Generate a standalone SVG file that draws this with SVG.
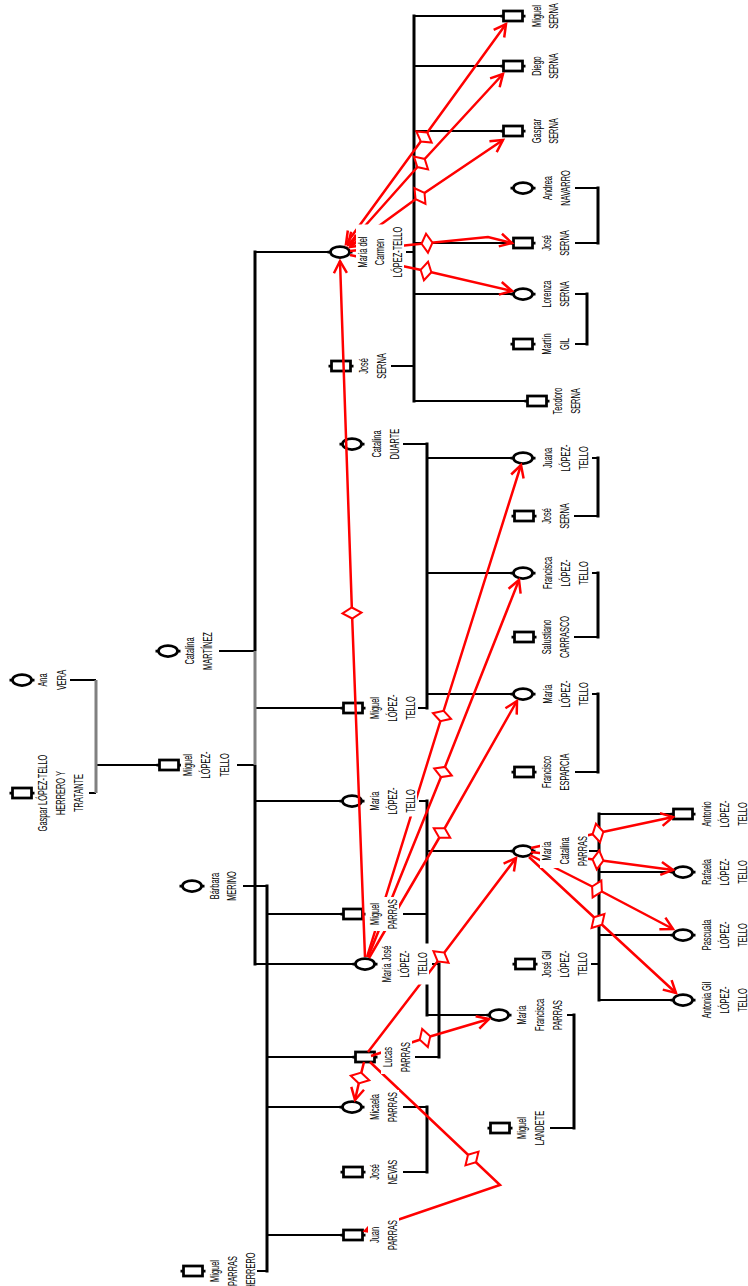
<svg xmlns="http://www.w3.org/2000/svg" xmlns:xlink="http://www.w3.org/1999/xlink" width="748" height="1286" viewBox="0 0 748 1286">
<style>
.ln{stroke:#000;stroke-width:2;fill:none}
.bar{stroke:#000;stroke-width:3;fill:none}
.grey{stroke:#808080;stroke-width:3;fill:none}
.red{stroke:#f00;stroke-width:2.5;fill:none}
.rm{marker-mid:url(#dia);marker-end:url(#arr)}
.rs{marker-start:url(#arrS)}
.sh{fill:none;stroke:#000;stroke-width:2.75}
.dia{fill:#fff;stroke:#f00;stroke-width:2}
.bg{fill:#fff}
text{font-family:"Liberation Sans",Arial,sans-serif;font-size:12px;fill:#000;text-anchor:middle}
</style>
<defs>
<g id="sq" class="sh"><rect x="-9.5" y="-5" width="19" height="10"/><path d="M-12.5,0H-9.5M9.5,0H12.5"/></g>
<g id="ci" class="sh"><ellipse rx="9.5" ry="5.5"/><path d="M-12.5,0H-9.5M9.5,0H12.5"/></g>
<marker id="dia" markerUnits="userSpaceOnUse" markerWidth="24" markerHeight="24" viewBox="-12 -12 24 24" refX="0" refY="0" orient="auto"><path class="dia" d="M-5.5,0L0,-9.5L5.5,0L0,9.5Z"/></marker>
<marker id="arr" markerUnits="userSpaceOnUse" markerWidth="30" markerHeight="30" viewBox="-15 -15 30 30" refX="0" refY="0" orient="auto"><path d="M-12,-6.5L0,0L-12,6.5" fill="none" stroke="#f00" stroke-width="2.5"/></marker>
<marker id="arrS" markerUnits="userSpaceOnUse" markerWidth="30" markerHeight="30" viewBox="-15 -15 30 30" refX="0" refY="0" orient="auto-start-reverse"><path d="M-12,-6.5L0,0L-12,6.5" fill="none" stroke="#f00" stroke-width="2.5"/></marker>
</defs>
<rect width="748" height="1286" fill="#fff"/>
<g id="connectors">
<path class="ln" d="M70,680H96M89,793H96M96,765H159.5M219,651H255M237,765H255M255,252H330.5M255,708H343.5M255,801H342.5M255,964H355.5M243,886H267M257,1271H267M267,914H343.5M267,1057H355.5M267,1107H342.5M267,1235H343.5M406,252H414M391,366H414M414,16H503.5M414,66H503.5M414,131H503.5M414,243H513.5M414,294H513.5M414,401H527.5M575,188H598M575,243H598M575,294H587M575,344H587M403,444H427M418,708H427M427,458H513.5M427,573H513.5M427,694H513.5M592,458H598M574,516H598M592,573H598M574,637H598M592,694H598M575,772H598M419,801H427M403,914H427M427,851H513.5M427,1015H489.5M432,964H439M415,1057H439M403,1107H427M403,1172H427M567,1015H574M550,1128H574M589,851H599M591,964H599M599,814H673.5M599,872H673.5M599,935H673.5M599,1000H673.5"/>
<path class="grey" d="M96,680V793M255,651V765"/>
<path class="bar" d="M255,250.5V651M255,765V965.5M267,884.5V1272.5M414,14.5V402.5M598,186.5V244.5M587,292.5V345.5M427,442.5V709.5M598,456.5V517.5M598,571.5V638.5M598,692.5V773.5M427,799.5V1016.5M439,962.5V1058.5M427,1105.5V1173.5M574,1013.5V1129.5M599,812.5V1001.5"/>
</g>
<g id="nodes-shapes">
<use href="#ci" x="22" y="680"/>
<use href="#sq" x="22" y="793"/>
<use href="#ci" x="168" y="651"/>
<use href="#sq" x="169" y="765"/>
<use href="#ci" x="192" y="886"/>
<use href="#sq" x="193" y="1271"/>
<use href="#ci" x="340" y="252"/>
<use href="#sq" x="341" y="366"/>
<use href="#ci" x="352" y="444"/>
<use href="#sq" x="353" y="708"/>
<use href="#ci" x="352" y="801"/>
<use href="#sq" x="353" y="914"/>
<use href="#ci" x="365" y="964"/>
<use href="#sq" x="365" y="1057"/>
<use href="#ci" x="352" y="1107"/>
<use href="#sq" x="353" y="1172"/>
<use href="#sq" x="353" y="1235"/>
<use href="#sq" x="513" y="16"/>
<use href="#sq" x="513" y="66"/>
<use href="#sq" x="513" y="131"/>
<use href="#ci" x="523" y="188"/>
<use href="#sq" x="523" y="243"/>
<use href="#ci" x="523" y="294"/>
<use href="#sq" x="523" y="344"/>
<use href="#sq" x="537" y="401"/>
<use href="#ci" x="523" y="458"/>
<use href="#sq" x="524" y="516"/>
<use href="#ci" x="523" y="573"/>
<use href="#sq" x="524" y="637"/>
<use href="#ci" x="523" y="694"/>
<use href="#sq" x="524" y="772"/>
<use href="#ci" x="523" y="851"/>
<use href="#sq" x="525" y="964"/>
<use href="#ci" x="499" y="1015"/>
<use href="#sq" x="500" y="1128"/>
<use href="#sq" x="683" y="814"/>
<use href="#ci" x="683" y="872"/>
<use href="#ci" x="683" y="935"/>
<use href="#ci" x="683" y="1000"/>
</g>
<g id="relations">
<path class="red rm" d="M365,957L352,613L340,261"/>
<path class="red rm" d="M367,957L442,716L521,465"/>
<path class="red rm" d="M368,957L443,772L519,580"/>
<path class="red rm" d="M369,958L442,833L517,701"/>
<path class="red rm" d="M368,1052L441,957L516,858"/>
<path class="red rm" d="M371,1056L425,1038L489,1019"/>
<path class="red rm" d="M364,1062L360,1078L355,1100"/>
<path class="red" d="M370,1062L500,1185L365,1231" marker-end="url(#arr)"/>
<path class="dia" d="M-5.5,0L0,-9.5L5.5,0L0,9.5Z" transform="translate(472,1158.5) rotate(43.4)"/>
<path class="red rm" d="M531,848L598,833L673,817"/>
<path class="red rm" d="M531,852L598,860L673,870"/>
<path class="red rm" d="M530,855L597,889L673,929"/>
<path class="red rm" d="M529,857L598,921L676,993"/>
<path class="red rm rs" d="M346,244L424,137L506,24"/>
<path class="red rm rs" d="M348,245L421,163L503,74"/>
<path class="red rm rs" d="M350,247L420,196L503,140"/>
<path class="red" d="M350,251L488,237L512,243" marker-end="url(#arr)"/>
<path class="dia" d="M-5.5,0L0,-9.5L5.5,0L0,9.5Z" transform="translate(427,243.2) rotate(-5.8)"/>
<path class="red rm" d="M350,255L426,271L512,291"/>
</g>
<g id="labels">
<g id="n-ana-vera"><rect class="bg" x="36" y="668" width="32" height="24"/><text transform="translate(47,680) rotate(-90) scale(0.62,1)"><tspan x="0" y="0">Ana</tspan><tspan x="0" y="19">VERA</tspan></text></g>
<g id="n-gaspar-lopez-tello"><rect class="bg" x="36" y="752" width="49" height="82"/><text transform="translate(47,793) rotate(-90) scale(0.62,1)"><tspan x="0" y="0">Gaspar LÓPEZ-TELLO</tspan><tspan x="0" y="18">HERRERO Y</tspan><tspan x="0" y="36">TRATANTE</tspan></text></g>
<g id="n-catalina-martinez"><rect class="bg" x="183" y="630" width="31" height="42"/><text transform="translate(194,651) rotate(-90) scale(0.62,1)"><tspan x="0" y="0">Catalina</tspan><tspan x="0" y="18">MARTÍNEZ</tspan></text></g>
<g id="n-miguel-lopez-tello-1"><rect class="bg" x="181" y="749.5" width="50" height="31"/><text transform="translate(192,765) rotate(-90) scale(0.62,1)"><tspan x="0" y="0">Miguel</tspan><tspan x="0" y="18.5">LÓPEZ-</tspan><tspan x="0" y="37">TELLO</tspan></text></g>
<g id="n-barbara-merino"><rect class="bg" x="208" y="869" width="30" height="34"/><text transform="translate(219,886) rotate(-90) scale(0.62,1)"><tspan x="0" y="0">Bárbara</tspan><tspan x="0" y="17">MERINO</tspan></text></g>
<g id="n-miguel-parras-herrero"><rect class="bg" x="208" y="1250" width="49" height="41"/><text transform="translate(219,1271) rotate(-90) scale(0.62,1)"><tspan x="0" y="0">Miguel</tspan><tspan x="0" y="18">PARRAS</tspan><tspan x="0" y="36">HERRERO</tspan></text></g>
<g id="n-maria-del-carmen"><rect class="bg" x="356" y="224.5" width="48" height="55"/><text transform="translate(367,252) rotate(-90) scale(0.62,1)"><tspan x="0" y="0">María del</tspan><tspan x="0" y="17.5">Carmen</tspan><tspan x="0" y="35">LÓPEZ-TELLO</tspan></text></g>
<g id="n-jose-serna-2"><rect class="bg" x="357" y="351" width="31" height="30"/><text transform="translate(368,366) rotate(-90) scale(0.62,1)"><tspan x="0" y="0">José</tspan><tspan x="0" y="18">SERNA</tspan></text></g>
<g id="n-catalina-duarte"><rect class="bg" x="370" y="427" width="31" height="34"/><text transform="translate(381,444) rotate(-90) scale(0.62,1)"><tspan x="0" y="0">Catalina</tspan><tspan x="0" y="18">DUARTE</tspan></text></g>
<g id="n-miguel-lopez-tello-2"><rect class="bg" x="368" y="692.5" width="49" height="31"/><text transform="translate(379,708) rotate(-90) scale(0.62,1)"><tspan x="0" y="0">Miguel</tspan><tspan x="0" y="18">LÓPEZ-</tspan><tspan x="0" y="36">TELLO</tspan></text></g>
<g id="n-maria-lopez-tello-2"><rect class="bg" x="368" y="785.5" width="49" height="31"/><text transform="translate(379,801) rotate(-90) scale(0.62,1)"><tspan x="0" y="0">María</tspan><tspan x="0" y="18">LÓPEZ-</tspan><tspan x="0" y="36">TELLO</tspan></text></g>
<g id="n-miguel-parras"><rect class="bg" x="368" y="897" width="31" height="34"/><text transform="translate(379,914) rotate(-90) scale(0.62,1)"><tspan x="0" y="0">Miguel</tspan><tspan x="0" y="18">PARRAS</tspan></text></g>
<g id="n-maria-jose"><rect class="bg" x="380" y="943.5" width="49" height="41"/><text transform="translate(391,964) rotate(-90) scale(0.62,1)"><tspan x="0" y="0">María José</tspan><tspan x="0" y="18">LÓPEZ-</tspan><tspan x="0" y="36">TELLO</tspan></text></g>
<g id="n-lucas-parras"><rect class="bg" x="381" y="1040" width="31" height="34"/><text transform="translate(392,1057) rotate(-90) scale(0.62,1)"><tspan x="0" y="0">Lucas</tspan><tspan x="0" y="18">PARRAS</tspan></text></g>
<g id="n-micaela-parras"><rect class="bg" x="368" y="1090" width="31" height="34"/><text transform="translate(379,1107) rotate(-90) scale(0.62,1)"><tspan x="0" y="0">Micaela</tspan><tspan x="0" y="18">PARRAS</tspan></text></g>
<g id="n-jose-nevas"><rect class="bg" x="368" y="1157.5" width="31" height="29"/><text transform="translate(379,1172) rotate(-90) scale(0.62,1)"><tspan x="0" y="0">José</tspan><tspan x="0" y="18">NEVAS</tspan></text></g>
<g id="n-juan-parras"><rect class="bg" x="368" y="1218" width="31" height="34"/><text transform="translate(379,1235) rotate(-90) scale(0.62,1)"><tspan x="0" y="0">Juan</tspan><tspan x="0" y="18">PARRAS</tspan></text></g>
<g id="n-miguel-serna"><rect class="bg" x="530" y="1.5" width="30" height="29"/><text transform="translate(541,16) rotate(-90) scale(0.62,1)"><tspan x="0" y="0">Miguel</tspan><tspan x="0" y="17">SERNA</tspan></text></g>
<g id="n-diego-serna"><rect class="bg" x="530" y="51.5" width="30" height="29"/><text transform="translate(541,66) rotate(-90) scale(0.62,1)"><tspan x="0" y="0">Diego</tspan><tspan x="0" y="17">SERNA</tspan></text></g>
<g id="n-gaspar-serna"><rect class="bg" x="530" y="116.5" width="30" height="29"/><text transform="translate(541,131) rotate(-90) scale(0.62,1)"><tspan x="0" y="0">Gaspar</tspan><tspan x="0" y="17">SERNA</tspan></text></g>
<g id="n-andrea-navarro"><rect class="bg" x="541" y="167.5" width="31" height="41"/><text transform="translate(552,188) rotate(-90) scale(0.62,1)"><tspan x="0" y="0">Andrea</tspan><tspan x="0" y="18">NAVARRO</tspan></text></g>
<g id="n-jose-serna-3"><rect class="bg" x="540" y="228.5" width="31" height="29"/><text transform="translate(551,243) rotate(-90) scale(0.62,1)"><tspan x="0" y="0">José</tspan><tspan x="0" y="18">SERNA</tspan></text></g>
<g id="n-lorenza-serna"><rect class="bg" x="540" y="278.5" width="31" height="31"/><text transform="translate(551,294) rotate(-90) scale(0.62,1)"><tspan x="0" y="0">Lorenza</tspan><tspan x="0" y="18">SERNA</tspan></text></g>
<g id="n-martin-gil"><rect class="bg" x="540" y="331.5" width="31" height="25"/><text transform="translate(551,344) rotate(-90) scale(0.62,1)"><tspan x="0" y="0">Martín</tspan><tspan x="0" y="18">GIL</tspan></text></g>
<g id="n-teodoro-serna"><rect class="bg" x="551" y="385" width="31" height="32"/><text transform="translate(562,401) rotate(-90) scale(0.62,1)"><tspan x="0" y="0">Teodoro</tspan><tspan x="0" y="18">SERNA</tspan></text></g>
<g id="n-juana-lopez-tello"><rect class="bg" x="541" y="442.5" width="49" height="31"/><text transform="translate(552,458) rotate(-90) scale(0.62,1)"><tspan x="0" y="0">Juana</tspan><tspan x="0" y="18">LÓPEZ-</tspan><tspan x="0" y="36">TELLO</tspan></text></g>
<g id="n-jose-serna-4"><rect class="bg" x="540" y="501.5" width="31" height="29"/><text transform="translate(551,516) rotate(-90) scale(0.62,1)"><tspan x="0" y="0">José</tspan><tspan x="0" y="18">SERNA</tspan></text></g>
<g id="n-francisca-lopez-tello"><rect class="bg" x="541" y="555" width="49" height="36"/><text transform="translate(552,573) rotate(-90) scale(0.62,1)"><tspan x="0" y="0">Francisca</tspan><tspan x="0" y="18">LÓPEZ-</tspan><tspan x="0" y="36">TELLO</tspan></text></g>
<g id="n-salustiano-carrasco"><rect class="bg" x="540" y="614" width="31" height="46"/><text transform="translate(551,637) rotate(-90) scale(0.62,1)"><tspan x="0" y="0">Salustiano</tspan><tspan x="0" y="18">CARRASCO</tspan></text></g>
<g id="n-maria-lopez-tello-3"><rect class="bg" x="541" y="678.5" width="49" height="31"/><text transform="translate(552,694) rotate(-90) scale(0.62,1)"><tspan x="0" y="0">María</tspan><tspan x="0" y="18">LÓPEZ-</tspan><tspan x="0" y="36">TELLO</tspan></text></g>
<g id="n-francisco-esparcia"><rect class="bg" x="540" y="751" width="31" height="42"/><text transform="translate(551,772) rotate(-90) scale(0.62,1)"><tspan x="0" y="0">Francisco</tspan><tspan x="0" y="18">ESPARCIA</tspan></text></g>
<g id="n-maria-catalina-parras"><rect class="bg" x="540" y="834" width="48" height="34"/><text transform="translate(551,851) rotate(-90) scale(0.62,1)"><tspan x="0" y="0">María</tspan><tspan x="0" y="18">Catalina</tspan><tspan x="0" y="36">PARRAS</tspan></text></g>
<g id="n-jose-gil-lopez-tello"><rect class="bg" x="540" y="947" width="48" height="34"/><text transform="translate(551,964) rotate(-90) scale(0.62,1)"><tspan x="0" y="0">José Gil</tspan><tspan x="0" y="18">LÓPEZ-</tspan><tspan x="0" y="36">TELLO</tspan></text></g>
<g id="n-maria-francisca-parras"><rect class="bg" x="515" y="997" width="49" height="36"/><text transform="translate(526,1015) rotate(-90) scale(0.62,1)"><tspan x="0" y="0">María</tspan><tspan x="0" y="18">Francisca</tspan><tspan x="0" y="36">PARRAS</tspan></text></g>
<g id="n-miguel-landete"><rect class="bg" x="515" y="1109" width="31" height="38"/><text transform="translate(526,1128) rotate(-90) scale(0.62,1)"><tspan x="0" y="0">Miguel</tspan><tspan x="0" y="18">LANDETE</tspan></text></g>
<g id="n-antonio-lopez-tello"><rect class="bg" x="700" y="798.5" width="48" height="31"/><text transform="translate(711,814) rotate(-90) scale(0.62,1)"><tspan x="0" y="0">Antonio</tspan><tspan x="0" y="18">LÓPEZ-</tspan><tspan x="0" y="36">TELLO</tspan></text></g>
<g id="n-rafaela-lopez-tello"><rect class="bg" x="700" y="856.5" width="48" height="31"/><text transform="translate(711,872) rotate(-90) scale(0.62,1)"><tspan x="0" y="0">Rafaela</tspan><tspan x="0" y="18">LÓPEZ-</tspan><tspan x="0" y="36">TELLO</tspan></text></g>
<g id="n-pascuala-lopez-tello"><rect class="bg" x="700" y="918" width="48" height="34"/><text transform="translate(711,935) rotate(-90) scale(0.62,1)"><tspan x="0" y="0">Pascuala</tspan><tspan x="0" y="18">LÓPEZ-</tspan><tspan x="0" y="36">TELLO</tspan></text></g>
<g id="n-antonia-gil-lopez-tello"><rect class="bg" x="700" y="976.5" width="48" height="47"/><text transform="translate(711,1000) rotate(-90) scale(0.62,1)"><tspan x="0" y="0">Antonia Gil</tspan><tspan x="0" y="18">LÓPEZ-</tspan><tspan x="0" y="36">TELLO</tspan></text></g>
</g>
</svg>
